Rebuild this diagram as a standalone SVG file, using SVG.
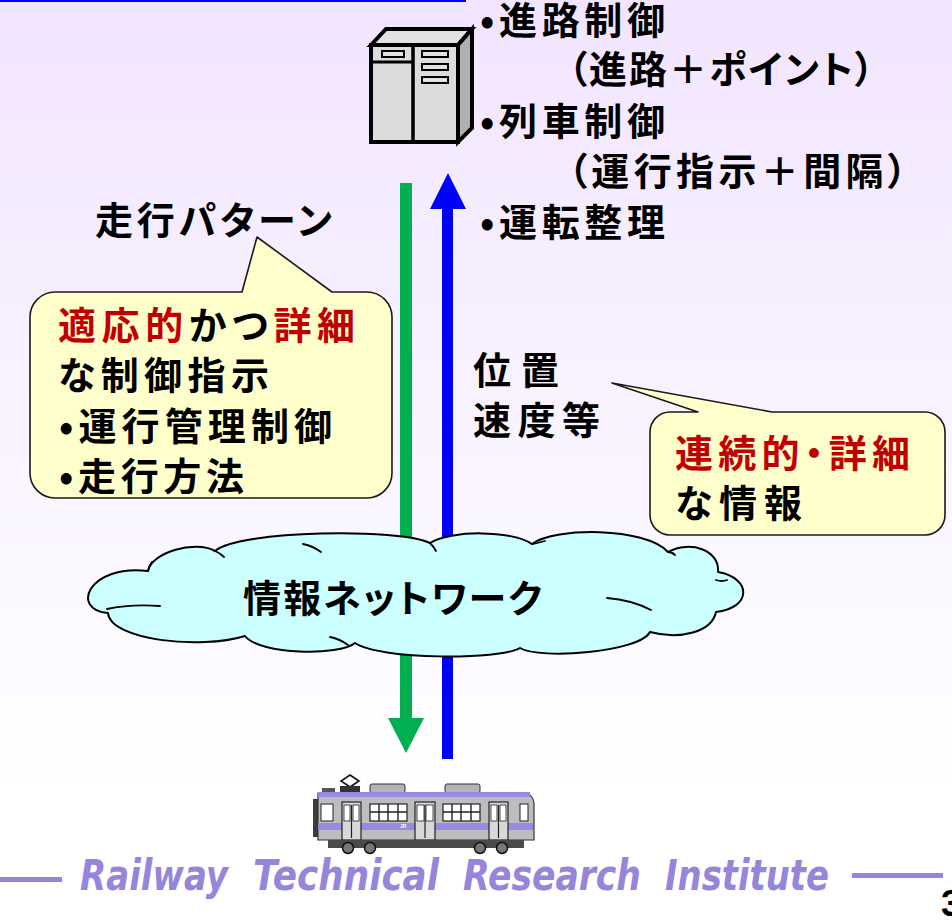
<svg xmlns="http://www.w3.org/2000/svg" width="952" height="922" viewBox="0 0 952 922">
  <defs>
    <linearGradient id="bg" x1="0" y1="0" x2="0" y2="1">
      <stop offset="0" stop-color="#f2e5ff"/>
      <stop offset="0.85" stop-color="#ffffff"/>
      <stop offset="1" stop-color="#ffffff"/>
    </linearGradient>
    <style>
      .jp { font-family: "Noto Sans CJK JP", "Noto Sans CJK SC", sans-serif; font-weight: 700; font-size: 38px; fill: #000; font-feature-settings: "palt"; }
      .red { fill: #c00000; }
      .bubble { fill: #ffffcc; stroke: #1a1a1a; stroke-width: 1.6; stroke-linejoin: round; }
      .srv { stroke: #000; stroke-width: 4; stroke-linejoin: miter; }
      .slot { fill: #e2e2e2; stroke: #000; stroke-width: 2; }
      .foot { font-family: "DejaVu Sans", "Liberation Sans", sans-serif; font-style: italic; font-weight: 700; font-size: 42px; fill: #9585db; }
      .curl { fill: none; stroke: #000; stroke-width: 1.8; stroke-linecap: round; }
    </style>
  </defs>

  <!-- page background -->
  <rect x="0" y="0" width="952" height="922" fill="url(#bg)"/>
  <rect x="0" y="0" width="466" height="2" fill="#0000ff"/>

  <!-- connectors: control pattern down, position data up -->
  <g id="connectors">
    <g id="arrow-down">
      <rect x="400" y="183" width="12" height="536" fill="#00b050"/>
      <polygon points="388,718 424,718 406,753" fill="#00b050"/>
    </g>
    <g id="arrow-up">
      <rect x="442" y="208" width="11" height="551" fill="#0000ff"/>
      <polygon points="430,209 466,209 448,173" fill="#0000ff"/>
    </g>
  </g>

  <!-- network cloud -->
  <g id="network">
    <path fill="#ccffff" stroke="#000" stroke-width="2" stroke-linejoin="round"
      d="M108,613 C70,610 88,564 148,571 C152,552 195,540 215,551 C240,530 400,528 430,543 C450,530 512,530 532,544 C555,527 645,527 668,552 C690,540 720,550 718,572 C752,578 752,608 716,612 C712,632 680,640 650,632 C640,652 540,660 520,648 C500,660 380,660 355,643 C340,656 260,655 245,636 C200,650 110,640 108,613 Z"/>
    <path class="curl" d="M148,571 Q149,566 152,562"/>
    <path class="curl" d="M303,544 Q313,546 321,552"/>
    <path class="curl" d="M430,543 Q434,547 436,551"/>
    <path class="curl" d="M532,544 Q538,543 545,541"/>
    <path class="curl" d="M668,552 Q672,552 675,555"/>
    <path class="curl" d="M716,580 Q722,582 727,580"/>
    <path class="curl" d="M607,598 Q632,600 651,610"/>
    <path class="curl" d="M330,637 Q340,639 348,645"/>
    <path class="curl" d="M107,609 Q130,604 160,606"/>
    <path class="curl" d="M215,551 Q220,553 224,557"/>
    <text class="jp" x="243" y="595" font-size="39" dominant-baseline="central" textLength="299" lengthAdjust="spacing">情報ネットワーク</text>
  </g>

  <!-- server -->
  <g id="server">
    <rect class="srv" x="371" y="45" width="87" height="97" fill="#dcdcdc"/>
    <polygon class="srv" points="371,45 386,29 472,29 458,45" fill="#e2e2e2"/>
    <polygon class="srv" points="458,45 472,29 472,128 458,142" fill="#b0b0b0"/>
    <line x1="413" y1="45" x2="413" y2="142" stroke="#000" stroke-width="3.5"/>
    <line x1="371" y1="62" x2="413" y2="62" stroke="#000" stroke-width="3"/>
    <rect class="slot" x="382" y="51" width="22" height="6"/>
    <rect class="slot" x="422" y="51" width="26" height="6"/>
    <rect class="slot" x="422" y="64" width="26" height="6"/>
    <rect class="slot" x="422" y="77" width="26" height="6"/>
  </g>

  <!-- server functions -->
  <g id="server-functions">
    <text class="jp" x="480" y="17" dominant-baseline="central" textLength="185" lengthAdjust="spacing">•進路制御</text>
    <text class="jp" x="568" y="66" dominant-baseline="central" textLength="306" lengthAdjust="spacing">（進路＋ポイント）</text>
    <text class="jp" x="480" y="118" dominant-baseline="central" textLength="185" lengthAdjust="spacing">•列車制御</text>
    <text class="jp" x="568" y="168" dominant-baseline="central" textLength="339" lengthAdjust="spacing">（運行指示＋間隔）</text>
    <text class="jp" x="480" y="219" dominant-baseline="central" textLength="185" lengthAdjust="spacing">•運転整理</text>
  </g>

  <!-- downlink label and callout -->
  <g id="pattern-label">
    <text class="jp" x="95" y="217" dominant-baseline="central" textLength="237" lengthAdjust="spacing">走行パターン</text>
  </g>
  <g id="control-callout">
    <path class="bubble" d="M55,292 L242,292 L257,237 L332,292 L367,292 A25,25 0 0 1 392,317 L392,473 A25,25 0 0 1 367,498 L55,498 A25,25 0 0 1 30,473 L30,317 A25,25 0 0 1 55,292 Z"/>
    <text class="jp" x="58" y="322" dominant-baseline="central" textLength="297" lengthAdjust="spacing"><tspan class="red">適応的</tspan>かつ<tspan class="red">詳細</tspan></text>
    <text class="jp" x="58" y="372" dominant-baseline="central" textLength="211" lengthAdjust="spacing">な制御指示</text>
    <text class="jp" x="59" y="423" dominant-baseline="central" textLength="273" lengthAdjust="spacing">•運行管理制御</text>
    <text class="jp" x="59" y="473" dominant-baseline="central" textLength="185" lengthAdjust="spacing">•走行方法</text>
  </g>

  <!-- uplink label and callout -->
  <g id="position-label">
    <text class="jp" x="473" y="367" dominant-baseline="central" textLength="86" lengthAdjust="spacing">位置</text>
    <text class="jp" x="473" y="417" dominant-baseline="central" textLength="127" lengthAdjust="spacing">速度等</text>
  </g>
  <g id="info-callout">
    <path class="bubble" d="M670,412 L698,412 L612,383 L772,412 L925,412 A20,20 0 0 1 945,432 L945,515 A20,20 0 0 1 925,535 L670,535 A20,20 0 0 1 650,515 L650,432 A20,20 0 0 1 670,412 Z"/>
    <text class="jp red" x="675" y="450" dominant-baseline="central" textLength="235" lengthAdjust="spacing">連続的・詳細</text>
    <text class="jp" x="675" y="500" dominant-baseline="central" textLength="127" lengthAdjust="spacing">な情報</text>
  </g>

  <!-- train -->
  <g id="train">
    <!-- pantograph and roof units -->
    <polygon points="350,775 359,781 350,787 341,781" fill="none" stroke="#111" stroke-width="1.6"/>
    <rect x="340" y="786" width="20" height="6" fill="#333"/>
    <rect x="322" y="788" width="13" height="4" fill="#555"/>
    <rect x="370" y="784" width="35" height="9" rx="2" fill="#b4b4b4" stroke="#333" stroke-width="1"/>
    <rect x="445" y="784" width="35" height="9" rx="2" fill="#b4b4b4" stroke="#333" stroke-width="1"/>
    <!-- coupler end -->
    <rect x="313" y="799" width="6" height="38" fill="#3c3c3c"/>
    <!-- body -->
    <path d="M318,793 L526,793 Q533,795 534,803 L534,840 L318,840 Z" fill="#bdbdbd" stroke="#333" stroke-width="1.2"/>
    <rect x="318" y="792" width="212" height="5" fill="#9a88e4"/>
    <rect x="318" y="823" width="215" height="7" fill="#9a88e4"/>
    <!-- windows -->
    <rect x="321" y="804" width="12" height="17" fill="#fff" stroke="#222" stroke-width="1"/>
    <rect x="370" y="804" width="37" height="17" fill="#fff" stroke="#222" stroke-width="1.2"/>
    <path d="M379,804 V821 M388,804 V821 M398,804 V821 M370,812 H407" stroke="#222" stroke-width="1.4"/>
    <rect x="443" y="804" width="37" height="17" fill="#fff" stroke="#222" stroke-width="1.2"/>
    <path d="M452,804 V821 M461,804 V821 M471,804 V821 M443,812 H480" stroke="#222" stroke-width="1.4"/>
    <rect x="520" y="804" width="8" height="17" fill="#fff" stroke="#222" stroke-width="1"/>
    <!-- doors -->
    <g fill="#d8d8d8" stroke="#222" stroke-width="1.2">
      <rect x="342" y="802" width="19" height="38"/>
      <rect x="415" y="802" width="20" height="38"/>
      <rect x="489" y="802" width="19" height="38"/>
    </g>
    <g fill="#fff" stroke="#222" stroke-width="0.8">
      <rect x="344" y="805" width="6" height="16"/>
      <rect x="353" y="805" width="6" height="16"/>
      <rect x="417" y="805" width="7" height="16"/>
      <rect x="426" y="805" width="7" height="16"/>
      <rect x="491" y="805" width="6" height="16"/>
      <rect x="500" y="805" width="6" height="16"/>
    </g>
    <path d="M351.5,805 V838 M425,805 V838 M498.5,805 V838" stroke="#222" stroke-width="1.2"/>
    <text x="400" y="828" font-family="Liberation Sans, sans-serif" font-size="5" font-weight="700" fill="#fff">JR</text>
    <!-- underframe and bogies -->
    <rect x="328" y="840" width="196" height="8" fill="#4a4a4a"/>
    <g fill="#777" stroke="#111" stroke-width="1.5">
      <circle cx="348" cy="848" r="5.5"/>
      <circle cx="370" cy="848" r="5.5"/>
      <circle cx="480" cy="848" r="5.5"/>
      <circle cx="502" cy="848" r="5.5"/>
    </g>
  </g>

  <!-- footer -->
  <g id="footer">
    <rect x="0" y="877" width="62" height="5" fill="#9585db"/>
    <rect x="852" y="873" width="91" height="5" fill="#9585db"/>
    <text class="foot" x="80" y="890" textLength="148" lengthAdjust="spacingAndGlyphs">Railway</text>
    <text class="foot" x="253" y="890" textLength="186" lengthAdjust="spacingAndGlyphs">Technical</text>
    <text class="foot" x="463" y="890" textLength="178" lengthAdjust="spacingAndGlyphs">Research</text>
    <text class="foot" x="665" y="890" textLength="164" lengthAdjust="spacingAndGlyphs">Institute</text>
    <text x="941" y="916" font-family="Liberation Sans, sans-serif" font-size="36" font-weight="700" fill="#000">3</text>
  </g>
</svg>
